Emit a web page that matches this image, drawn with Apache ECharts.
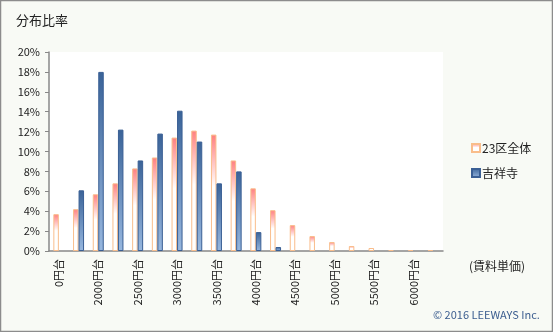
<!DOCTYPE html>
<html><head><meta charset="utf-8">
<script src="https://cdn.jsdelivr.net/npm/echarts@6/dist/echarts.min.js"></script>
<style>html,body{margin:0;padding:0;background:#f8faf5;}#c{width:553px;height:332px;}</style>
</head><body><div id="c"></div>
<script>
const categories = ['0円台','1750円台','2000円台','2250円台','2500円台','2750円台','3000円台','3250円台','3500円台','3750円台','4000円台','4250円台','4500円台','4750円台','5000円台','5250円台','5500円台','5750円台','6000円台','6250円台'];
const ward23 = [3.7,4.2,5.7,6.8,8.3,9.4,11.4,12.1,11.7,9.1,6.3,4.1,2.6,1.5,0.9,0.5,0.3,0.1,0.1,0.1];
const kichijoji = [0,6.1,18.0,12.2,9.1,11.8,14.1,11.0,6.8,8.0,1.9,0.4,0,0,0,0,0,0,0,0];
const seriesNames = ['23区全体','吉祥寺'];
const yTicks = {min:0, max:20, interval:2};
const FONT = '"Noto Sans CJK JP", "Noto Sans", sans-serif';

const hideZero = arr => arr.map(v => v === 0 ? '-' : v);

const chart = echarts.init(document.getElementById('c'));
chart.setOption({
  backgroundColor: '#f8faf5',
  animation: false,
  textStyle: {fontFamily: FONT},
  title: {text: '分布比率', left: 11, top: 9, textStyle: {fontSize: 13, fontWeight: 'normal', color: '#222', fontFamily: FONT}},
  grid: {left: 49, top: 52, width: 394, height: 199, show: true, backgroundColor: '#ffffff', borderWidth: 0},
  legend: {
    orient: 'vertical', left: 466, top: 137, itemWidth: 8, itemHeight: 8, itemGap: 13,
    icon: 'rect',
    textStyle: {fontSize: 12, color: '#222', fontFamily: FONT, padding: [0,0,0,-3]},
    data: seriesNames
  },
  xAxis: {
    type: 'category', data: categories,
    axisLine: {lineStyle: {color: '#888', width: 1.5}},
    axisTick: {interval: 1, length: 5, lineStyle: {color: '#888'}},
    axisLabel: {interval: 1, rotate: 90, fontSize: 11, color: '#222', margin: 8, fontFamily: FONT}
  },
  yAxis: {
    type: 'value', min: yTicks.min, max: yTicks.max, interval: yTicks.interval,
    splitLine: {show: false},
    axisLine: {show: true, lineStyle: {color: '#888', width: 1.5}},
    axisTick: {show: true, length: 4, lineStyle: {color: '#888'}},
    axisLabel: {formatter: '{value}%', fontSize: 11, color: '#222', margin: 9, fontFamily: FONT}
  },
  series: [
    {name: seriesNames[0], type: 'bar', data: hideZero(ward23), barWidth: 5.5, barGap: '0%',
      itemStyle: {
        color: new echarts.graphic.LinearGradient(0,0,0,1,[{offset:0,color:'#ff7f7f'},{offset:0.45,color:'#ffffff'},{offset:1,color:'#ffffff'}]),
        borderColor: '#f9bd8b', borderWidth: 1
      }},
    {name: seriesNames[1], type: 'bar', data: hideZero(kichijoji), barWidth: 5.5, barGap: '0%',
      itemStyle: {
        color: new echarts.graphic.LinearGradient(0,0,0,1,[{offset:0,color:'#3a6398'},{offset:1,color:'#97b7df'}]),
        borderColor: '#3a5f94', borderWidth: 1
      }}
  ],
  graphic: [
    {type: 'text', left: 469, top: 260, style: {text: '(賃料単価)', fontSize: 12, fill: '#222', fontFamily: FONT}},
    {type: 'text', left: 433, top: 309, style: {text: '© 2016 LEEWAYS Inc.', fontSize: 11, fill: '#3b5d8f', fontFamily: FONT}},
    {type: 'rect', shape: {x: 0.5, y: 0.5, width: 552, height: 331}, style: {fill: 'none', stroke: '#8c8c8c', lineWidth: 1.5}, silent: true}
  ]
});
</script></body></html>
